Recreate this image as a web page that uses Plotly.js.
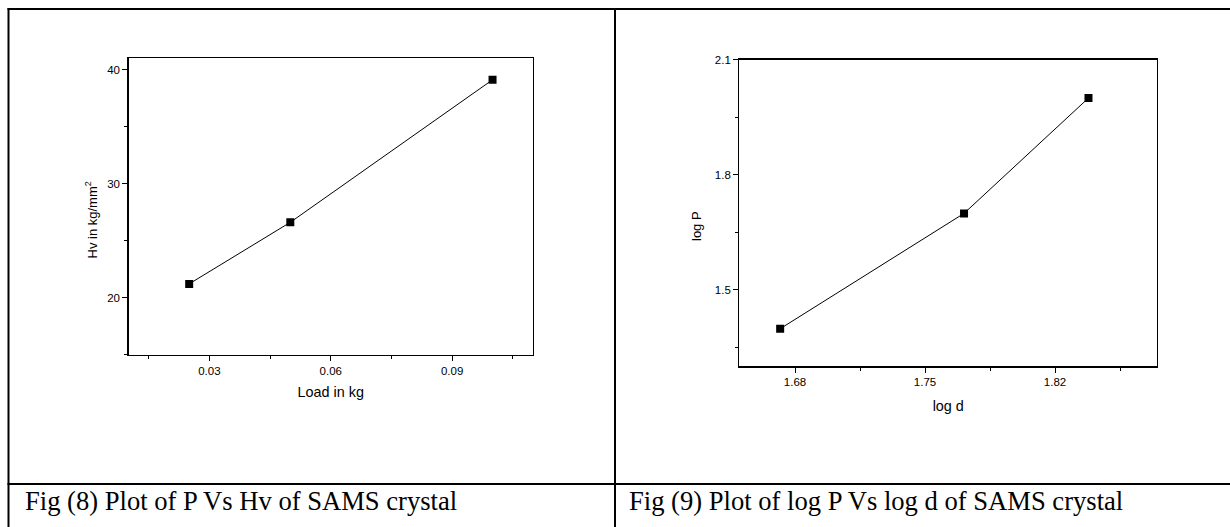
<!DOCTYPE html>
<html>
<head>
<meta charset="utf-8">
<script src="https://cdn.plot.ly/plotly-3.0.1.min.js"></script>
<style>
  html, body { margin: 0; padding: 0; background: #ffffff; }
  #chart { width: 1230px; height: 527px; }
</style>
</head>
<body>
<div id="chart"></div>
<script>
// ---- Data ----
// Fig (8): Hv vs load
const loadKg = [0.025, 0.05, 0.1];
const hvValues = [21.2, 26.6, 39.1];
// Fig (9): log P vs log d
const logD = [1.672, 1.771, 1.838];
const logP = [1.398, 1.699, 2.0];

// ---- Text ----
const caption8 = "Fig (8) Plot of P Vs Hv of SAMS crystal";
const caption9 = "Fig (9) Plot of log P Vs log d of SAMS crystal";
const xTitle8 = "Load in kg";
const yTitle8 = "Hv in kg/mm<sup>2</sup>";
const xTitle9 = "log d";
const yTitle9 = "log P";

const W = 1230, H = 527;
const px = v => v / W;
const py = v => 1 - v / H;

const sans = "Liberation Sans, Arial, sans-serif";
const serif = "Liberation Serif, Times New Roman, serif";

const lineStyle = { color: "#000000", width: 1 };
const markerStyle = { symbol: "square", size: 8, color: "#000000" };

const traces = [
  { x: loadKg, y: hvValues, xaxis: "x", yaxis: "y", type: "scatter", mode: "lines+markers",
    line: lineStyle, marker: markerStyle, showlegend: false, hoverinfo: "x+y" },
  { x: logD, y: logP, xaxis: "x2", yaxis: "y2", type: "scatter", mode: "lines+markers",
    line: lineStyle, marker: markerStyle, showlegend: false, hoverinfo: "x+y" }
];

function axisBase(extra) {
  return Object.assign({
    showline: true, mirror: true, linecolor: "#000000", linewidth: 1.2,
    showgrid: false, zeroline: false,
    ticks: "outside", ticklen: 5, tickwidth: 1, tickcolor: "#000000",
    tickfont: { family: sans, size: 11.5, color: "#000000" },
    fixedrange: true
  }, extra);
}

const layout = {
  width: W, height: H,
  margin: { l: 0, r: 0, t: 0, b: 0, pad: 0 },
  paper_bgcolor: "#ffffff",
  plot_bgcolor: "#ffffff",
  showlegend: false,
  xaxis: axisBase({
    domain: [px(128.5), px(533)], anchor: "y",
    range: [0.01, 0.11], tick0: 0, dtick: 0.03,
    minor: { tick0: 0, dtick: 0.015, ticks: "outside", ticklen: 3, tickcolor: "#000000", tickwidth: 1 },
    title: { text: xTitle8, font: { family: sans, size: 14.4, color: "#000000" }, standoff: 11 }
  }),
  yaxis: axisBase({
    domain: [py(354.6), py(58.1)], anchor: "x",
    range: [15, 41], tick0: 0, dtick: 10,
    minor: { tick0: 0, dtick: 5, ticks: "outside", ticklen: 3, tickcolor: "#000000", tickwidth: 1 }
  }),
  xaxis2: axisBase({
    domain: [px(739.3), px(1157.2)], anchor: "y2",
    range: [1.65, 1.875], tick0: 1.68, dtick: 0.07,
    minor: { tick0: 1.68, dtick: 0.035, ticks: "outside", ticklen: 3, tickcolor: "#000000", tickwidth: 1 },
    title: { text: xTitle9, font: { family: sans, size: 14.4, color: "#000000" }, standoff: 13 }
  }),
  yaxis2: axisBase({
    domain: [py(366.3), py(59.5)], anchor: "x2",
    range: [1.3, 2.1005], tick0: 1.5, dtick: 0.3, tickformat: ".1f",
    minor: { tick0: 1.5, dtick: 0.15, ticks: "outside", ticklen: 3, tickcolor: "#000000", tickwidth: 1 }
  }),
  annotations: [
    { text: yTitle8, xref: "paper", yref: "paper", x: px(91.5), y: py(220),
      xanchor: "center", yanchor: "middle", textangle: -90, showarrow: false,
      font: { family: sans, size: 13, color: "#000000" } },
    { text: yTitle9, xref: "paper", yref: "paper", x: px(696), y: py(226),
      xanchor: "center", yanchor: "middle", textangle: -90, showarrow: false,
      font: { family: sans, size: 13, color: "#000000" } },
    { text: caption8, xref: "paper", yref: "paper", x: px(23), y: py(501),
      xanchor: "left", yanchor: "middle", showarrow: false,
      font: { family: serif, size: 26.6, color: "#000000" } },
    { text: caption9, xref: "paper", yref: "paper", x: px(627), y: py(501),
      xanchor: "left", yanchor: "middle", showarrow: false,
      font: { family: serif, size: 26.6, color: "#000000" } }
  ],
  shapes: [
    // table borders
    { type: "line", xref: "paper", yref: "paper", x0: px(7.5), x1: px(1240), y0: py(9), y1: py(9), line: { color: "#000000", width: 2 } },
    { type: "line", xref: "paper", yref: "paper", x0: px(8.5), x1: px(8.5), y0: py(8), y1: py(540), line: { color: "#000000", width: 2 } },
    { type: "line", xref: "paper", yref: "paper", x0: px(615), x1: px(615), y0: py(8), y1: py(540), line: { color: "#000000", width: 2 } },
    { type: "line", xref: "paper", yref: "paper", x0: px(7.5), x1: px(1240), y0: py(484), y1: py(484), line: { color: "#000000", width: 2 } }
  ]
};

Plotly.newPlot("chart", traces, layout, { staticPlot: true, displayModeBar: false });
</script>
</body>
</html>
